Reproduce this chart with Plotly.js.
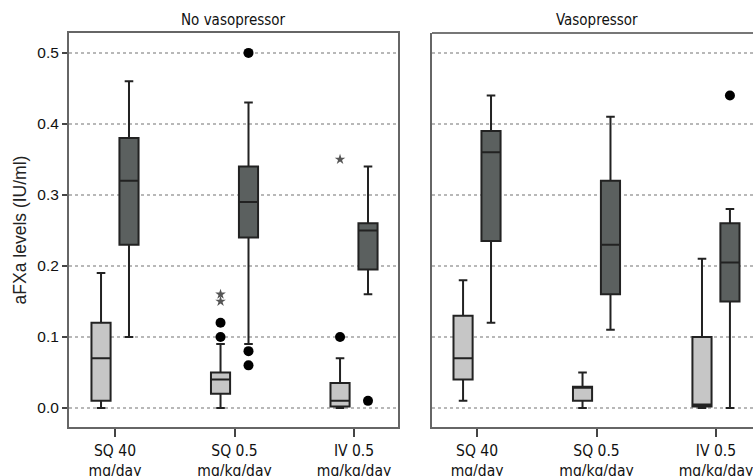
<!DOCTYPE html>
<html>
<head>
<meta charset="utf-8">
<script src="https://cdn.plot.ly/plotly-3.0.1.min.js"></script>
<style>html,body{margin:0;padding:0;background:#fff;}#chart{width:753px;height:476px;}</style>
</head>
<body>
<div id="chart"></div>
<script>
// ---- data ----
const categories = ['SQ 40<br>mg/day', 'SQ 0.5<br>mg/kg/day', 'IV 0.5<br>mg/kg/day'];
const panelTitles = ['No vasopressor', 'Vasopressor'];
const yTickVals = [0.0, 0.1, 0.2, 0.3, 0.4, 0.5];
const yTickText = ['0.0', '0.1', '0.2', '0.3', '0.4', '0.5'];

// No vasopressor, light (first) series
const nvLightLow    = [0.00, 0.00, 0.00];
const nvLightQ1     = [0.01, 0.02, 0.002];
const nvLightMedian = [0.07, 0.04, 0.01];
const nvLightQ3     = [0.12, 0.05, 0.035];
const nvLightHigh   = [0.19, 0.09, 0.07];
// No vasopressor, dark (second) series
const nvDarkLow    = [0.10, 0.09, 0.16];
const nvDarkQ1     = [0.23, 0.24, 0.195];
const nvDarkMedian = [0.32, 0.29, 0.25];
const nvDarkQ3     = [0.38, 0.34, 0.26];
const nvDarkHigh   = [0.46, 0.43, 0.34];

// Vasopressor, light series
const vLightLow    = [0.01, 0.00, 0.00];
const vLightQ1     = [0.04, 0.01, 0.002];
const vLightMedian = [0.07, 0.03, 0.005];
const vLightQ3     = [0.13, 0.03, 0.10];
const vLightHigh   = [0.18, 0.05, 0.21];
// Vasopressor, dark series
const vDarkLow    = [0.12, 0.11, 0.00];
const vDarkQ1     = [0.235, 0.16, 0.15];
const vDarkMedian = [0.36, 0.23, 0.205];
const vDarkQ3     = [0.39, 0.32, 0.26];
const vDarkHigh   = [0.44, 0.41, 0.28];

// outliers (category index, value)
const nvLightDotCat  = [1, 1, 2];
const nvLightDotVal  = [0.12, 0.10, 0.10];
const nvLightStarCat = [1, 1, 2];
const nvLightStarVal = [0.16, 0.15, 0.35];
const nvDarkDotCat   = [1, 1, 1, 2];
const nvDarkDotVal   = [0.50, 0.08, 0.06, 0.01];
const vDarkDotCat    = [2];
const vDarkDotVal    = [0.44];

// ---- styling / layout ----
const OFF = 0.117;
const BOXW = 0.16;
const LIGHT = '#c6c6c6';
const DARK = '#5b605f';
const EDGE = '#222';

function boxTrace(xa, ya, low, q1, med, q3, high, fill, sign) {
  return {
    type: 'box', xaxis: xa, yaxis: ya,
    x: categories.map((c, i) => i + sign * OFF),
    lowerfence: low, q1: q1, median: med, q3: q3, upperfence: high,
    width: BOXW, whiskerwidth: 0.45,
    fillcolor: fill, line: {color: EDGE, width: 2},
    boxpoints: false, showlegend: false, hoverinfo: 'skip'
  };
}
function ptTrace(xa, ya, cats, vals, sign, symbol, color, size) {
  return {
    type: 'scatter', mode: 'markers', xaxis: xa, yaxis: ya,
    x: cats.map(i => i + sign * OFF), y: vals,
    marker: {symbol: symbol, color: color, size: size, line: {width: 0}},
    showlegend: false, hoverinfo: 'skip'
  };
}

const data = [
  boxTrace('x', 'y', nvLightLow, nvLightQ1, nvLightMedian, nvLightQ3, nvLightHigh, LIGHT, -1),
  boxTrace('x', 'y', nvDarkLow, nvDarkQ1, nvDarkMedian, nvDarkQ3, nvDarkHigh, DARK, 1),
  boxTrace('x2', 'y2', vLightLow, vLightQ1, vLightMedian, vLightQ3, vLightHigh, LIGHT, -1),
  boxTrace('x2', 'y2', vDarkLow, vDarkQ1, vDarkMedian, vDarkQ3, vDarkHigh, DARK, 1),
  ptTrace('x', 'y', nvLightDotCat, nvLightDotVal, -1, 'circle', '#000', 10),
  ptTrace('x', 'y', nvLightStarCat, nvLightStarVal, -1, 'star', '#555', 8),
  ptTrace('x', 'y', nvDarkDotCat, nvDarkDotVal, 1, 'circle', '#000', 10),
  ptTrace('x2', 'y2', vDarkDotCat, vDarkDotVal, 1, 'circle', '#000', 10)
];

const W = 753, H = 476;
const yDom = [1 - 427 / H, 1 - 33 / H];
const yRange = [-0.0268, 0.528];
const font = 'Liberation Sans, Arial, sans-serif';
const labFont = 'DejaVu Sans Condensed, DejaVu Sans, sans-serif';

const xBase = {
  tickmode: 'array', tickvals: [0, 1, 2], ticktext: categories,
  ticks: 'outside', ticklen: 8, tickwidth: 2, tickcolor: '#444',
  showline: true, linecolor: '#666', linewidth: 2, mirror: true,
  showgrid: false, zeroline: false, ticklabeloverflow: 'allow',
  tickfont: {family: labFont, size: 15.5, color: '#111'}, fixedrange: true
};
const yBase = {
  range: yRange, tickmode: 'array', tickvals: yTickVals, ticktext: yTickText,
  showgrid: true, gridcolor: '#b8b8b8', gridwidth: 2, griddash: 'dot',
  zeroline: false, showline: true, linecolor: '#666', linewidth: 2,
  fixedrange: true
};

const layout = {
  width: W, height: H,
  margin: {l: 0, r: 0, t: 0, b: 0},
  paper_bgcolor: '#fff', plot_bgcolor: '#fff',
  boxmode: 'overlay',
  xaxis: Object.assign({}, xBase, {domain: [69 / W, 398 / W], range: [-0.385, 2.368], anchor: 'y'}),
  xaxis2: Object.assign({}, xBase, {domain: [432 / W, 1], range: [-0.377, 2.31], anchor: 'y2', mirror: false}),
  yaxis: Object.assign({}, yBase, {
    domain: yDom, anchor: 'x', mirror: true,
    ticks: 'outside', ticklen: 5, tickwidth: 2, tickcolor: '#444',
    tickfont: {family: font, size: 15.5, color: '#111'},
    title: {text: 'aFXa levels (IU/ml)', font: {family: font, size: 17.5, color: '#222'}, standoff: 6}
  }),
  yaxis2: Object.assign({}, yBase, {
    domain: yDom, anchor: 'x2', showticklabels: false, ticks: ''
  }),
  shapes: [
    {type: 'line', xref: 'paper', yref: 'paper', x0: 432 / W, x1: 1, y0: yDom[1], y1: yDom[1],
     line: {color: '#777', width: 2}}
  ],
  annotations: [
    {text: panelTitles[0], xref: 'paper', yref: 'paper', x: (69 + 398) / 2 / W, y: 1 - 20 / H,
     showarrow: false, font: {family: labFont, size: 15, color: '#111'}, xanchor: 'center', yanchor: 'middle'},
    {text: panelTitles[1], xref: 'paper', yref: 'paper', x: (432 + 761) / 2 / W, y: 1 - 20 / H,
     showarrow: false, font: {family: labFont, size: 15, color: '#111'}, xanchor: 'center', yanchor: 'middle'}
  ]
};

Plotly.newPlot('chart', data, layout, {displayModeBar: false, staticPlot: true});
</script>
</body>
</html>
